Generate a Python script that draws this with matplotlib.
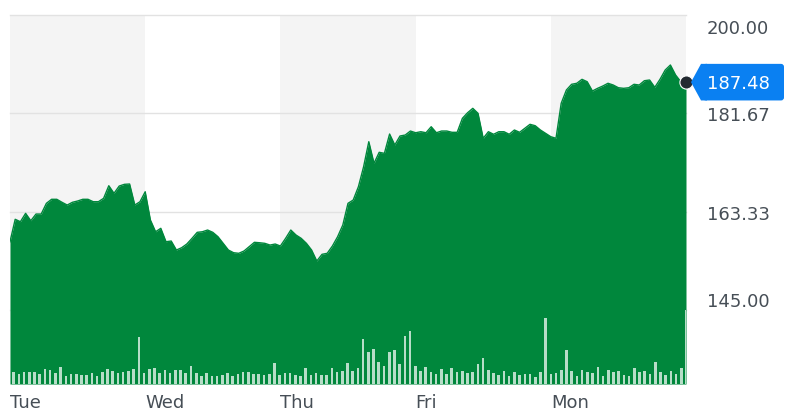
import numpy as np
import matplotlib.pyplot as plt
from matplotlib.patches import Polygon, FancyBboxPatch
from matplotlib.transforms import IdentityTransform

# 15-minute closes, five sessions (Mon carries the final print)
days = ['Tue', 'Wed', 'Thu', 'Fri', 'Mon']
price_tue = [157.73, 161.91, 161.46, 163.02, 161.64, 162.89, 162.89, 164.89, 165.64, 165.64,
             165.08, 164.57, 165.08, 165.32, 165.64, 165.64, 165.19, 165.19, 165.82, 168.17,
             166.75, 168.11, 168.43, 168.49, 164.57, 165.19]
price_wed = [167.05, 161.78, 159.59, 160.23, 157.73, 157.86, 156.18, 156.61, 157.30, 158.36,
             159.48, 159.59, 159.91, 159.48, 158.66, 157.43, 156.18, 155.68, 155.57, 156.00,
             156.80, 157.62, 157.54, 157.43, 157.11, 157.30]
price_thu = [156.93, 158.36, 159.91, 158.98, 158.36, 157.43, 156.18, 154.13, 155.38, 155.57,
             156.93, 158.66, 160.84, 164.89, 165.50, 167.98, 171.71, 176.38, 172.35, 174.40,
             174.21, 177.81, 175.76, 177.44, 177.62, 178.37]
price_fri = [178.05, 178.24, 178.05, 179.17, 178.05, 178.37, 178.37, 178.13, 178.13, 180.74,
             181.78, 182.60, 181.67, 177.01, 178.24, 177.76, 178.24, 178.24, 177.76, 178.56,
             178.13, 178.87, 179.62, 179.36, 178.56, 177.94]
price_mon = [177.31, 177.01, 183.54, 186.02, 187.08, 187.27, 188.01, 187.56, 185.83, 186.33,
             186.76, 187.27, 186.95, 186.44, 186.33, 186.44, 187.08, 186.95, 187.75, 187.88,
             186.52, 188.01, 189.74, 190.68, 188.81, 187.56, 187.48]

# volume per interval (relative units)
vol_tue = [12, 10, 12, 12, 12, 10, 15, 14, 11, 17, 8, 10, 10, 9, 9, 11, 8, 12, 15, 13,
           11, 12, 13, 15, 47, 11]
vol_wed = [15, 15.7, 11.3, 14, 10.7, 14, 13.7, 10.7, 18, 10.7, 8.3, 10.7, 8.3, 8.3, 9, 11.3,
           8.3, 10, 11.7, 12.3, 10, 10, 9, 10, 21.3, 9]
vol_thu = [11.3, 11.3, 9, 8, 15.7, 9, 11.3, 9, 9, 16.3, 12.3, 13.3, 20.7, 13.3, 15.7, 45,
           32.3, 34.7, 22.3, 18, 32.3, 34, 20, 48, 53.3, 18]
vol_fri = [13.3, 16.7, 12.3, 9.7, 15, 10, 16.3, 11.7, 13.3, 11.3, 11.7, 20, 25.7, 14, 10.7, 9,
           13, 8.3, 12.3, 9, 10.3, 10.3, 7.3, 12.3, 66.3, 10]
vol_mon = [11.3, 14, 34, 13.3, 8.3, 14, 12.3, 10.7, 17.3, 8, 14, 12.3, 13.3, 9, 8.3, 15.7,
           11.7, 13.3, 10, 21.7, 11.7, 9, 13.3, 10, 15.7, 74]

y_ticks = [200.00, 181.67, 163.33, 145.00]
y_tick_labels = ['200.00', '181.67', '163.33', '145.00']
label_dy = [-13.7, -5.8, -5.8, 2.2]   # points, baseline offset from the grid line

GREEN = '#00873c'
BLUE = '#0a80f2'
TEXT = '#464e56'
GRID = '#e2e2e2'
BAND = '#f4f4f4'
FS = 13

price = np.array(price_tue + price_wed + price_thu + price_fri + price_mon)
volume = np.array(vol_tue + vol_wed + vol_thu + vol_fri + vol_mon)
per_day = len(price_tue)
x = np.arange(len(price))
y_min = 131.2

fig = plt.figure(figsize=(8, 4.18), dpi=100)
ax = fig.add_axes([0.0125, 0.0813, 0.845, 0.8828])
ax.set_xlim(0, len(price) - 1)
ax.set_ylim(y_min, y_ticks[0])

for k in range(len(days)):
    ax.axvspan(k * per_day, (k + 1) * per_day, color=BAND if k % 2 == 0 else 'white',
               lw=0, zorder=0)
for t in y_ticks:
    ax.axhline(t, color=GRID, lw=1, zorder=1, clip_on=False)

ax.fill_between(x, price, y_min, color=GREEN, lw=0, zorder=2)
ax.plot(x, price, color=GREEN, lw=1, zorder=3)

# volume bars on their own scale, sitting on the bottom of the plot
ax2 = ax.twinx()
bar_x = np.linspace(0.7, 130.1, len(volume))
ax2.bar(bar_x, volume, width=0.5, color='white', alpha=0.72, lw=0)
ax2.set_xlim(ax.get_xlim())

for a in (ax, ax2):
    for s in a.spines.values():
        s.set_visible(False)
    a.set_xticks([])
    a.set_yticks([])

for k, d in enumerate(days):
    ax.annotate(d, xy=(k * per_day, 0), xycoords=('data', 'axes fraction'),
                xytext=(0, -17.3), textcoords='offset points',
                ha='left', va='baseline', fontsize=FS, color=TEXT)

for t, lab, dy in zip(y_ticks, y_tick_labels, label_dy):
    ax2.annotate(lab, xy=(1, t), xycoords=('axes fraction', ax.transData),
                 xytext=(15, dy), textcoords='offset points',
                 ha='left', va='baseline', fontsize=FS, color=TEXT, annotation_clip=False)

# last price marker and badge (on the top axes so the bars don't cover them)
last = price[-1]
ax2.plot([x[-1]], [last], 'o', ms=9.5, color='#232a31', mec='white', mew=0.8,
         transform=ax.transData, zorder=8, clip_on=False)
ax2.set_ylim(0, volume.max() * 5.0)

fig.canvas.draw()
px, py = ax.transData.transform((x[-1], last))
half = 18.3
body_left = px + 15
body_right = px + 98
tip = Polygon([(px + 5, py), (body_left, py + half), (body_left + 6, py + half),
               (body_left + 6, py - half), (body_left, py - half)],
              closed=True, fc=BLUE, ec='none', transform=IdentityTransform(),
              zorder=9, clip_on=False)
body = FancyBboxPatch((body_left + 2, py - half), body_right - body_left - 2, 2 * half,
                      boxstyle='round,pad=0,rounding_size=3', fc=BLUE, ec='none',
                      transform=IdentityTransform(), zorder=9, clip_on=False)
ax2.add_artist(tip)
ax2.add_artist(body)
ax2.annotate(f'{last:.2f}', xy=(1, last), xycoords=('axes fraction', ax.transData),
             xytext=(15, -4.8), textcoords='offset points', ha='left', va='baseline',
             fontsize=FS, color='white', zorder=10, annotation_clip=False)

fig.savefig('out.png', dpi=100)
